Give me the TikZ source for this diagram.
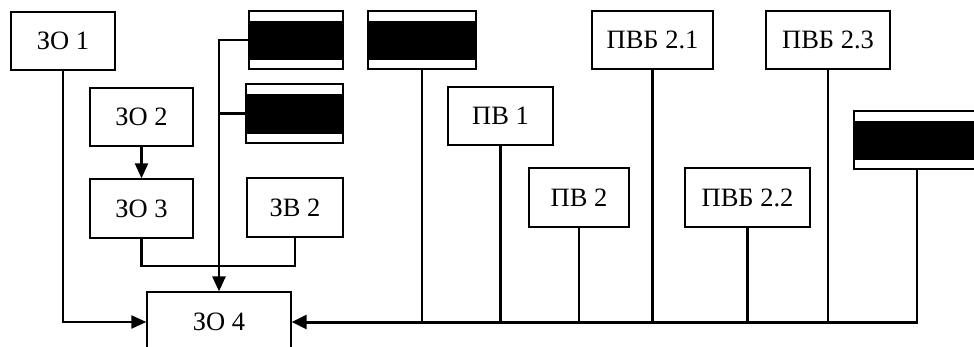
\documentclass[tikz,border=0pt]{standalone}
\usepackage{fontspec}
\setmainfont{Liberation Serif}
\usetikzlibrary{arrows.meta}
\begin{document}
\begin{tikzpicture}[x=1pt,y=-1pt,
 box/.style={draw,line width=1.3pt,rectangle,inner sep=0pt,font=\fontsize{26.5}{30}\selectfont},
 bar/.style={box,path picture={\fill[black] ([yshift=9pt]path picture bounding box.south west) rectangle ([yshift=-10pt]path picture bounding box.north east);}},
 ln/.style={line width=2.2pt,line join=miter},
 arr/.style={line width=2.2pt,line join=miter,-{Triangle[length=15pt,width=13pt]}},
 bus/.style={line width=3pt,-{Triangle[length=15pt,width=14pt]}},
]
\useasboundingbox (0,0) rectangle (974,347);
\clip (0,0) rectangle (974,347);
\node[box,minimum width=104pt,minimum height=58pt] (zo1) at (63,41) {ЗО 1};
\node[box,minimum width=103pt,minimum height=58pt] (zo2) at (141.5,117) {ЗО 2};
\node[box,minimum width=103pt,minimum height=59pt] (zo3) at (141.5,208.5) {ЗО 3};
\node[box,minimum width=96pt,minimum height=59pt] (zv2) at (295,207.5) {ЗВ 2};
\node[box,minimum width=144pt,minimum height=60pt] (zo4) at (219,322) {ЗО 4};
\node[bar,minimum width=94pt,minimum height=58pt] (b1) at (296,40) {};
\node[bar,minimum width=97pt,minimum height=59pt] (b2) at (294.5,113.5) {};
\node[bar,minimum width=108pt,minimum height=58pt] (b3) at (422,40) {};
\node[box,minimum width=105pt,minimum height=58pt] (pv1) at (500.5,116) {ПВ 1};
\node[box,minimum width=100pt,minimum height=59pt] (pv2) at (579,197.5) {ПВ 2};
\node[box,minimum width=121pt,minimum height=58pt] (pvb21) at (652.5,40) {ПВБ 2.1};
\node[box,minimum width=124pt,minimum height=58pt] (pvb23) at (828,40) {ПВБ 2.3};
\node[box,minimum width=125pt,minimum height=59pt] (pvb22) at (747.5,197.5) {ПВБ 2.2};
\node[bar,minimum width=140pt,minimum height=58pt] (b4) at (924,140) {};
\coordinate (busend) at (917,322);
% left side
\draw[arr] (zo1.south) |- (zo4.west);
\draw[arr] (zo2.south) -- (zo3.north);
\draw[ln] (zo3.south) -- ++(0,27) -| (zv2.south);
\draw[arr,line width=2.8pt] (b1.west) -| (zo4.north);
\draw[ln] (b2.west) -- (b2.west -| zo4.north);
% bus taps
\draw[ln] (b3.south) -- (b3.south |- busend);
\draw[ln] (pv1.south) -- (pv1.south |- busend);
\draw[ln] (pv2.south) -- (pv2.south |- busend);
\draw[ln] (pvb21.south) -- (pvb21.south |- busend);
\draw[ln] (pvb22.south) -- (pvb22.south |- busend);
\draw[ln] (pvb23.south) -- (pvb23.south |- busend);
\draw[ln] (b4.south -| busend) -- (busend);
\draw[bus] ([xshift=1.1pt]busend) -- (zo4.east);
\end{tikzpicture}
\end{document}
